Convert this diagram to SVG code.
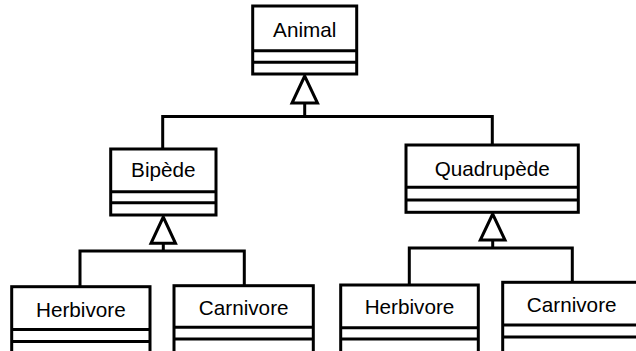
<svg xmlns="http://www.w3.org/2000/svg" width="636" height="351" viewBox="0 0 636 351">
  <style>
    .box { fill: #ffffff; stroke: #000000; stroke-width: 3; }
    .sep { stroke: #000000; stroke-width: 3; fill: none; }
    .label { font-family: "Liberation Sans", Arial, sans-serif; font-size: 20.7px; fill: #000000; text-anchor: middle; }
    .edge { stroke: #000000; stroke-width: 3; fill: none; }
    .head { fill: #ffffff; stroke: #000000; stroke-width: 3; stroke-linejoin: miter; }
  </style>
  <rect width="636" height="351" fill="#ffffff"/>

  <!-- inheritance connectors -->
  <g id="connectors">
    <!-- Animal <- Bipède, Quadrupède -->
    <polyline class="edge" points="304.7,103 304.7,116.5"/>
    <polyline class="edge" points="162.7,149 162.7,116.5 492.3,116.5 492.3,145"/>
    <polygon class="head" points="304.7,76 292,103 317.5,103"/>
    <!-- Bipède <- Herbivore, Carnivore -->
    <polyline class="edge" points="163.3,243.3 163.3,251"/>
    <polyline class="edge" points="80,286.7 80,251 244.3,251 244.3,285.7"/>
    <polygon class="head" points="163.3,217 151,243.3 175.5,243.3"/>
    <!-- Quadrupède <- Herbivore, Carnivore -->
    <polyline class="edge" points="492.7,240 492.7,248"/>
    <polyline class="edge" points="409.3,285 409.3,248 572.3,248 572.3,282"/>
    <polygon class="head" points="492.7,214 480.3,240 505,240"/>
  </g>

  <g id="animal">
    <rect class="box" x="252.7" y="6" width="104" height="68"/>
    <line class="sep" x1="252.7" y1="50.7" x2="356.7" y2="50.7"/>
    <line class="sep" x1="252.7" y1="62.3" x2="356.7" y2="62.3"/>
    <text class="label" x="304.7" y="37.3">Animal</text>
  </g>

  <g id="bipede">
    <rect class="box" x="110.7" y="149" width="105.3" height="66"/>
    <line class="sep" x1="110.7" y1="191.7" x2="216" y2="191.7"/>
    <line class="sep" x1="110.7" y1="202.7" x2="216" y2="202.7"/>
    <text class="label" x="163.3" y="177.3">Bipède</text>
  </g>

  <g id="quadrupede">
    <rect class="box" x="406" y="145" width="172.3" height="67.3"/>
    <line class="sep" x1="406" y1="187.3" x2="578.3" y2="187.3"/>
    <line class="sep" x1="406" y1="200" x2="578.3" y2="200"/>
    <text class="label" x="492.2" y="175.7">Quadrupède</text>
  </g>

  <g id="bipede-herbivore">
    <rect class="box" x="11.7" y="286.7" width="138.3" height="80"/>
    <line class="sep" x1="11.7" y1="329.5" x2="150" y2="329.5"/>
    <line class="sep" x1="11.7" y1="341.5" x2="150" y2="341.5"/>
    <text class="label" x="80.8" y="317.3">Herbivore</text>
  </g>

  <g id="bipede-carnivore">
    <rect class="box" x="174" y="285.7" width="139.3" height="80"/>
    <line class="sep" x1="174" y1="327.3" x2="313.3" y2="327.3"/>
    <line class="sep" x1="174" y1="339" x2="313.3" y2="339"/>
    <text class="label" x="243.7" y="315.3">Carnivore</text>
  </g>

  <g id="quadrupede-herbivore">
    <rect class="box" x="340.7" y="285" width="137.6" height="80"/>
    <line class="sep" x1="340.7" y1="327.7" x2="478.3" y2="327.7"/>
    <line class="sep" x1="340.7" y1="339" x2="478.3" y2="339"/>
    <text class="label" x="409.5" y="314">Herbivore</text>
  </g>

  <g id="quadrupede-carnivore">
    <rect class="box" x="502.7" y="282.3" width="139" height="80"/>
    <line class="sep" x1="502.7" y1="325" x2="641.7" y2="325"/>
    <line class="sep" x1="502.7" y1="337" x2="641.7" y2="337"/>
    <text class="label" x="571.7" y="312.3">Carnivore</text>
  </g>
</svg>
